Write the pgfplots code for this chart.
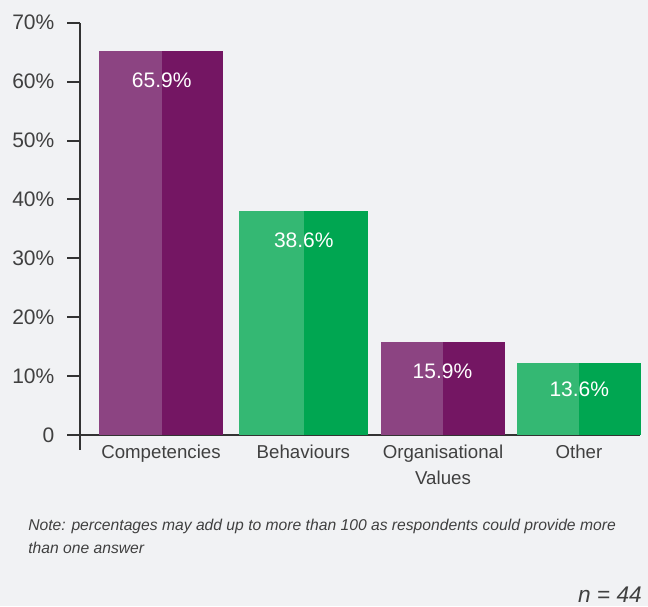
\documentclass[border=0pt]{standalone}
\usepackage{fontspec}
\setmainfont{Liberation Sans}
\usepackage{pgfplots}
\pgfplotsset{compat=1.18}

\definecolor{bg}{HTML}{F1F2F4}
\definecolor{purpleL}{HTML}{8C4482}
\definecolor{purpleD}{HTML}{741663}
\definecolor{greenL}{HTML}{34B873}
\definecolor{greenD}{HTML}{00A651}
\definecolor{txt}{HTML}{404040}
\definecolor{axisc}{HTML}{333333}

\begin{document}
\begin{tikzpicture}[x=0.75pt,y=0.75pt]
\fill[bg] (0,0) rectangle (648,606);
\useasboundingbox (0,0) rectangle (648,606);
\begin{axis}[
  at={(60pt,128.25pt)}, anchor=south west,
  scale only axis, width=420pt, height=309.2pt,
  xmin=80, xmax=640, ymin=0, ymax=70,
  clip=false,
  axis x line*=bottom, axis y line*=left,
  axis line style={-, draw=axisc, line width=1.5pt},
  xtick={161,303.4,443,578.9},
  xticklabels={Competencies,Behaviours,{Organisational\\Values},Other},
  xticklabel style={align=center, yshift=5.5pt, font=\fontsize{14}{19.5}\selectfont, text=txt},
  x tick style={draw=none},
  ytick={0,10,...,70},
  yticklabels={0,10\%,20\%,30\%,40\%,50\%,60\%,70\%},
  yticklabel style={xshift=-6pt, font=\fontsize{15.75}{18}\selectfont, text=txt},
  y tick style={draw=axisc, line width=1.5pt},
  tick align=outside, major tick length=9.75pt,
]
% dark full bars
\addplot[ybar, bar width=123.4, bar shift=0, fill=purpleD, draw=none] coordinates {(161,65.2)};
\addplot[ybar, bar width=128.7, bar shift=0, fill=greenD, draw=none] coordinates {(303.4,38.0)};
\addplot[ybar, bar width=124, bar shift=0, fill=purpleD, draw=none] coordinates {(443,15.8)};
\addplot[ybar, bar width=123.7, bar shift=0, fill=greenD, draw=none] coordinates {(578.9,12.2)};
% light left halves
\addplot[ybar, bar width=62.7, bar shift=0, fill=purpleL, draw=none] coordinates {(130.65,65.2)};
\addplot[ybar, bar width=65, bar shift=0, fill=greenL, draw=none] coordinates {(271.5,38.0)};
\addplot[ybar, bar width=62, bar shift=0, fill=purpleL, draw=none] coordinates {(412,15.8)};
\addplot[ybar, bar width=62, bar shift=0, fill=greenL, draw=none] coordinates {(548,12.2)};
% value labels (baseline positions)
\addplot[draw=none, mark=none, nodes near coords, point meta=explicit symbolic,
  nodes near coords style={anchor=base, inner sep=0pt, text=white, font=\fontsize{15.75}{18}\selectfont}]
  coordinates {(161.7,59.03) [65.9\%] (303.8,31.87) [38.6\%] (442.5,9.63) [15.9\%] (579.3,6.50) [13.6\%]};
\draw[axisc, line width=1.5pt] (axis cs:80,0) -- ++(0pt,-11.25pt);
\end{axis}
\node[anchor=base west, inner sep=0pt, text=txt, font=\fontsize{11.75}{14}\selectfont\itshape] at (28,76)
  {Note: percentages may add up to more than 100 as respondents could provide more};
\node[anchor=base west, inner sep=0pt, text=txt, font=\fontsize{11.75}{14}\selectfont\itshape] at (28,52.7)
  {than one answer};
\node[anchor=base east, inner sep=0pt, text=txt, font=\fontsize{17}{20}\selectfont\itshape] at (642,3.5)
  {n = 44};
\end{tikzpicture}
\end{document}
